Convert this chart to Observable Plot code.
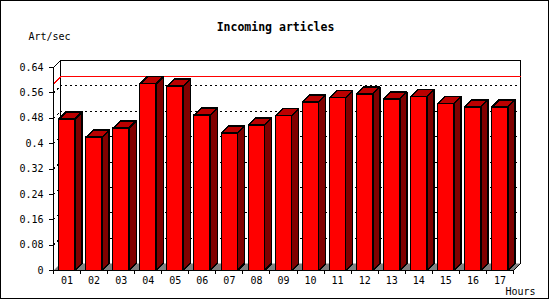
<!DOCTYPE html>
<html>
<head>
<meta charset="utf-8">
<script src="https://cdn.jsdelivr.net/npm/d3@7"></script>
<script src="https://cdn.jsdelivr.net/npm/@observablehq/plot@0.6"></script>
<style>
  html, body { margin: 0; padding: 0; background: white; }
</style>
</head>
<body>
<div id="chart"></div>
<script>
// ---- data ----
const hours = ["01","02","03","04","05","06","07","08","09","10","11","12","13","14","15","16","17"];
const artPerSec = [0.478, 0.421, 0.450, 0.589, 0.582, 0.491, 0.434, 0.459, 0.488, 0.532, 0.545, 0.557, 0.541, 0.548, 0.526, 0.516, 0.516];
const yTicks = [0, 0.08, 0.16, 0.24, 0.32, 0.4, 0.48, 0.56, 0.64];
const yTickLabels = ["0", "0.08", "0.16", "0.24", "0.32", "0.4", "0.48", "0.56", "0.64"];
const titleText = "Incoming articles";
const yAxisLabel = "Art/sec";
const xAxisLabel = "Hours";

// ---- layout ----
const W = 550, H = 300;
const X0 = 53, X1 = 513, Y0 = 270, Y1 = 67, DEPTH = 7;
const N = hours.length;
const YMAX = yTicks[yTicks.length - 1];
const pxX = (X1 - X0) / N;          // pixels per x unit
const pxY = (Y0 - Y1) / YMAX;       // pixels per y unit
const DX = DEPTH / pxX, DY = DEPTH / pxY;
const B0 = 0.21, B1 = 0.80;         // bar front face within band

const bars = hours.map((h, i) => ({h, i, v: artPerSec[i]}));
const poly = (id, pts) => pts.map(([x, y]) => ({id, x, y}));
const sidePts = bars.flatMap(b => poly(b.i, [
  [b.i + B1, 0], [b.i + B1 + DX, DY], [b.i + B1 + DX, b.v + DY], [b.i + B1, b.v], [b.i + B1, 0]
]));
const topPts = bars.flatMap(b => poly(b.i, [
  [b.i + B0, b.v], [b.i + B1, b.v], [b.i + B1 + DX, b.v + DY], [b.i + B0 + DX, b.v + DY], [b.i + B0, b.v]
]));
const floorPts = poly(0, [[0, 0], [N, 0], [N + DX, DY], [DX, DY], [0, 0]]);
const maxV = d3.max(artPerSec);
const redPts = poly(0, [[0, maxV], [DX, maxV + DY], [N + DX, maxV + DY]]);
const gridTicks = yTicks.filter(t => t > 0 && t < YMAX);

const CE = "crispEdges";
const chart = Plot.plot({
  width: W,
  height: H,
  margin: 0,
  style: {fontFamily: "'DejaVu Sans Mono', monospace", fontSize: "10px", background: "white", color: "black"},
  x: {type: "linear", domain: [0, N], range: [X0, X1], axis: null},
  y: {type: "linear", domain: [0, YMAX], range: [Y0, Y1], axis: null},
  marks: [
    // floor
    Plot.line(floorPts, {x: "x", y: "y", z: "id", fill: "#808080", stroke: "none"}),
    // back wall grid (dotted)
    Plot.ruleY(gridTicks, {y: d => d + DY, x1: DX, x2: N + DX, stroke: "black", strokeDasharray: "2,3", shapeRendering: CE}),
    // left wall grid diagonals
    Plot.link(gridTicks, {x1: 0, y1: d => d, x2: DX, y2: d => d + DY, stroke: "black", strokeDasharray: "2,3", shapeRendering: CE}),
    // back frame
    Plot.ruleY([YMAX + DY], {x1: DX, x2: N + DX, stroke: "black", shapeRendering: CE}),
    Plot.ruleX([DX, N + DX], {y1: DY, y2: YMAX + DY, stroke: "black", shapeRendering: CE}),
    Plot.link([0], {x1: 0, y1: YMAX, x2: DX, y2: YMAX + DY, stroke: "black", shapeRendering: CE}),
    Plot.link([0], {x1: N, y1: 0, x2: N + DX, y2: DY, stroke: "black", shapeRendering: CE}),
    // red max line
    Plot.line(redPts, {x: "x", y: "y", stroke: "red", shapeRendering: CE}),
    // bars
    Plot.rect(bars, {x1: d => d.i + B0, x2: d => d.i + B1, y1: 0, y2: "v", fill: "#ff0000", stroke: "black", shapeRendering: CE}),
    Plot.line(topPts, {x: "x", y: "y", z: "id", fill: "#bb0000", stroke: "black", shapeRendering: CE}),
    Plot.line(sidePts, {x: "x", y: "y", z: "id", fill: "#800000", stroke: "black", shapeRendering: CE}),
    // axes
    Plot.ruleX([0], {y1: 0, y2: YMAX, stroke: "black", shapeRendering: CE}),
    Plot.ruleY([0], {x1: 0, x2: N, stroke: "black", shapeRendering: CE}),
    Plot.ruleY(yTicks, {y: d => d, x1: -4 / pxX, x2: 0, stroke: "black", shapeRendering: CE}),
    Plot.ruleX(d3.range(N + 1), {x: d => d, y1: 0, y2: -4 / pxY, stroke: "black", shapeRendering: CE}),
    Plot.text(yTicks, {x: 0, y: d => d, text: (d, i) => yTickLabels[i], textAnchor: "end", dx: -10, fill: "black", fontSize: 10}),
    Plot.text(bars, {x: d => d.i + 0.5, y: 0, text: "h", dy: 10, fill: "black", fontSize: 10}),
    // titles
    Plot.text([titleText], {frameAnchor: "top", dy: 22.5, text: d => d, fontWeight: "bold", fontSize: 11.5, fill: "black"}),
    Plot.text([yAxisLabel], {frameAnchor: "top-left", dx: 28, dy: 32.5, text: d => d, textAnchor: "start", fontSize: 10, fill: "black"}),
    Plot.text([xAxisLabel], {frameAnchor: "bottom-right", dx: -15, dy: -6, text: d => d, textAnchor: "end", fontSize: 10, fill: "black"})
  ]
});

// image border
d3.select(chart).append("rect")
  .attr("x", 0.5).attr("y", 0.5).attr("width", 548).attr("height", 298)
  .attr("fill", "none").attr("stroke", "black").attr("stroke-width", 1)
  .attr("shape-rendering", "crispEdges");

document.getElementById("chart").appendChild(chart);
</script>
</body>
</html>
